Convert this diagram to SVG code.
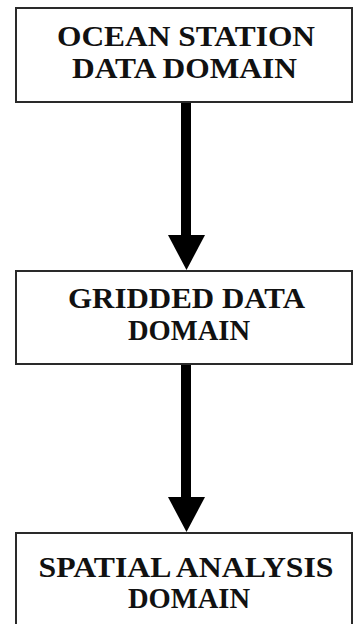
<svg xmlns="http://www.w3.org/2000/svg" width="355" height="624" viewBox="0 0 355 624">
<style>
.box{fill:#fff;stroke:#2a2a2a;stroke-width:2}
.t{font-family:"Liberation Serif","Times New Roman",serif;font-weight:bold;font-size:30px;fill:#111;text-anchor:middle}
.shaft{fill:#000}
</style>
<rect width="355" height="624" fill="#fff"/>
<g id="connectors">
<rect class="shaft" x="181" y="102" width="10" height="135"/>
<polygon class="shaft" points="168,235 205,235 186.5,270"/>
<rect class="shaft" x="181" y="364" width="10" height="135"/>
<polygon class="shaft" points="168,497 205,497 186.5,532"/>
</g>
<g id="node1">
<rect class="box" x="16" y="8" width="336" height="94"/>
<text class="t" x="186" y="46" textLength="258" lengthAdjust="spacingAndGlyphs">OCEAN STATION</text>
<text class="t" x="184.5" y="78" textLength="225" lengthAdjust="spacingAndGlyphs">DATA DOMAIN</text>
</g>
<g id="node2">
<rect class="box" x="16" y="271" width="336" height="93"/>
<text class="t" x="186.5" y="308" textLength="237" lengthAdjust="spacingAndGlyphs">GRIDDED DATA</text>
<text class="t" x="189" y="340" textLength="122" lengthAdjust="spacingAndGlyphs">DOMAIN</text>
</g>
<g id="node3">
<rect class="box" x="16" y="533" width="336" height="100"/>
<text class="t" x="186" y="577" textLength="295" lengthAdjust="spacingAndGlyphs">SPATIAL ANALYSIS</text>
<text class="t" x="189" y="608" textLength="122" lengthAdjust="spacingAndGlyphs">DOMAIN</text>
</g>
</svg>
